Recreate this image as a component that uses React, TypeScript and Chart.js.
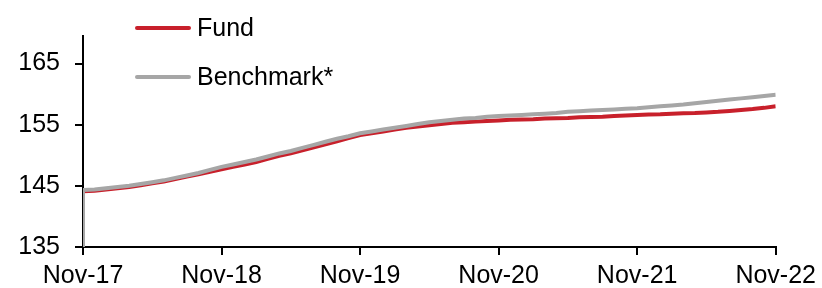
import React, { useEffect, useRef } from "react";
import { Chart, registerables } from "chart.js";

Chart.register(...registerables);

const tickLabels = ["Nov-17", "Nov-18", "Nov-19", "Nov-20", "Nov-21", "Nov-22"];
const yTicks = [135, 145, 155, 165];

const fundValues = [
  144.1, 144.2, 144.4, 144.6, 144.8, 145.1, 145.4, 145.7, 146.1, 146.5, 146.9, 147.3,
  147.7, 148.1, 148.5, 148.9, 149.4, 149.9, 150.3, 150.8, 151.3, 151.8, 152.3, 152.8,
  153.3, 153.6, 153.9, 154.2, 154.5, 154.7, 154.9, 155.1, 155.3, 155.4, 155.5, 155.6,
  155.7, 155.8, 155.85, 155.9, 156.0, 156.05, 156.1, 156.2, 156.25, 156.3, 156.4, 156.5,
  156.6, 156.65, 156.7, 156.8, 156.85, 156.9, 157.0, 157.1, 157.25, 157.4, 157.55, 157.75,
  158.0,
];

const benchmarkStart = 135;
const benchmarkValues = [
  144.3, 144.4, 144.6, 144.8, 145.0, 145.3, 145.6, 145.9, 146.3, 146.7, 147.1, 147.6,
  148.1, 148.5, 148.9, 149.3, 149.8, 150.3, 150.7, 151.2, 151.7, 152.2, 152.7, 153.1,
  153.6, 153.9, 154.2, 154.5, 154.8, 155.1, 155.4, 155.6, 155.8, 156.0, 156.1, 156.3,
  156.4, 156.5, 156.6, 156.7, 156.8, 156.9, 157.1, 157.2, 157.3, 157.4, 157.5, 157.6,
  157.7, 157.85, 158.0, 158.15, 158.3, 158.5, 158.7, 158.9, 159.1, 159.3, 159.5, 159.7,
  159.9,
];

const FONT = "Arial, 'Liberation Sans', sans-serif";
const RED = "#C8202B";
const GRAY = "#A6A6A6";

const legendPlugin = {
  id: "customLegend",
  afterDraw(chart: any) {
    const ctx = chart.ctx;
    const items = [
      { label: "Fund", color: RED, y: 28 },
      { label: "Benchmark*", color: GRAY, y: 77 },
    ];
    ctx.save();
    ctx.font = `25px ${FONT}`;
    ctx.textBaseline = "middle";
    ctx.fillStyle = "#000";
    items.forEach((it) => {
      ctx.strokeStyle = it.color;
      ctx.lineWidth = 4;
      ctx.lineCap = "round";
      ctx.beginPath();
      ctx.moveTo(137, it.y);
      ctx.lineTo(189, it.y);
      ctx.stroke();
      ctx.fillText(it.label, 197, it.y + 1);
    });
    ctx.restore();
  },
};

export default function App() {
  const ref = useRef<HTMLCanvasElement>(null);
  useEffect(() => {
    if (!ref.current) return;
    const fundData = fundValues.map((v, i) => ({ x: i, y: v }));
    const benchData = [{ x: 0, y: benchmarkStart }, ...benchmarkValues.map((v, i) => ({ x: i, y: v }))];
    const chart = new Chart(ref.current, {
      type: "line",
      data: {
        datasets: [
          {
            label: "Fund",
            data: fundData,
            borderColor: RED,
            borderWidth: 4,
            pointRadius: 0,
            tension: 0,
            order: 1,
          },
          {
            label: "Benchmark*",
            data: benchData,
            borderColor: GRAY,
            borderWidth: 4,
            pointRadius: 0,
            tension: 0,
            order: 0,
          },
        ],
      },
      options: {
        animation: false,
        responsive: false,
        maintainAspectRatio: false,
        layout: { padding: { left: 0, right: 45, top: 36, bottom: 0 } },
        plugins: { legend: { display: false }, tooltip: { enabled: false } },
        scales: {
          x: {
            type: "linear",
            min: 0,
            max: 60,
            afterBuildTicks: (scale: any) => {
              scale.ticks = tickLabels.map((_, i) => ({ value: i * 12 }));
            },
            afterFit: (scale: any) => {
              scale.height = 41;
            },
            ticks: {
              autoSkip: false,
              maxRotation: 0,
              padding: 6,
              color: "#000",
              font: { family: FONT, size: 25 },
              callback: (v: any) => tickLabels[Math.round(Number(v) / 12)],
            },
            grid: {
              drawOnChartArea: false,
              drawTicks: true,
              tickLength: 8,
              color: "#000",
              lineWidth: 2,
            },
            border: { display: true, color: "#000", width: 2 },
          },
          y: {
            type: "linear",
            min: 135,
            max: 169.5,
            afterBuildTicks: (scale: any) => {
              scale.ticks = yTicks.map((v) => ({ value: v }));
            },
            afterFit: (scale: any) => {
              scale.width = 83;
            },
            ticks: {
              padding: 15,
              color: "#000",
              font: { family: FONT, size: 25 },
            },
            grid: {
              drawOnChartArea: false,
              drawTicks: true,
              tickLength: 8,
              color: "#000",
              lineWidth: 2,
            },
            border: { display: true, color: "#000", width: 2 },
          },
        },
      },
      plugins: [legendPlugin],
    });
    return () => chart.destroy();
  }, []);
  return (
    <div style={{ position: "absolute", left: 0, top: 0, width: 822, height: 288, background: "#fff" }}>
      <canvas ref={ref} width={822} height={288} style={{ width: 822, height: 288 }} />
    </div>
  );
}
